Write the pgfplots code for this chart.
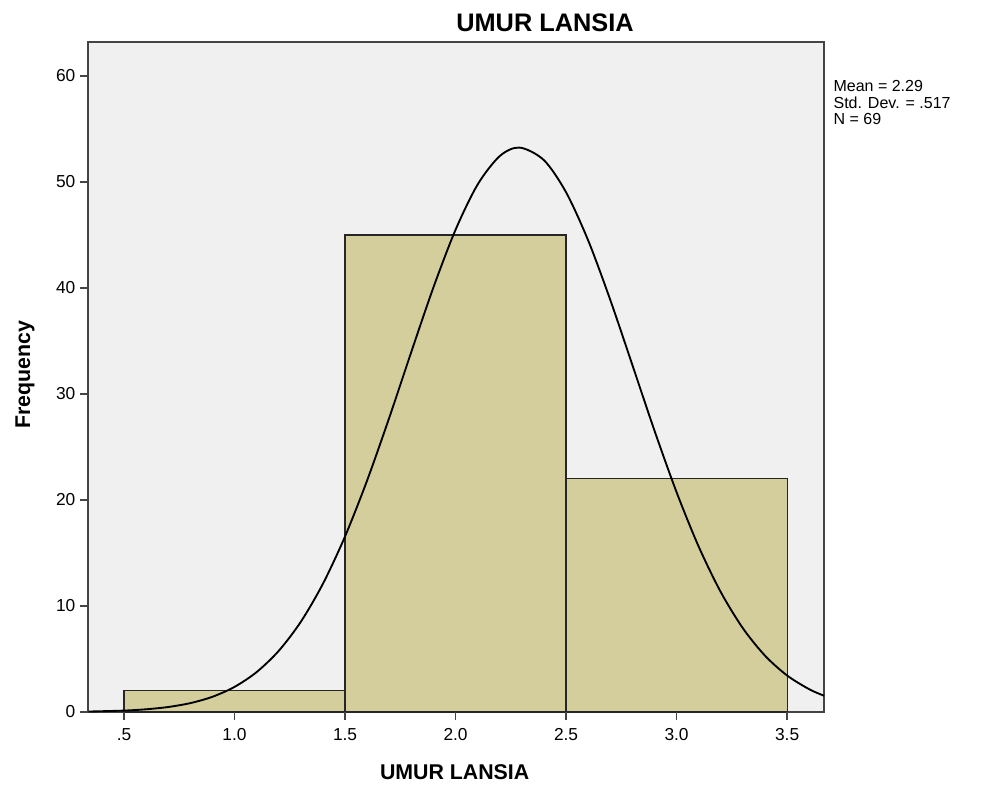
\documentclass[border=0pt]{standalone}
\usepackage{fontspec}
\setmainfont{Liberation Sans}
\usepackage{pgfplots}
\pgfplotsset{compat=1.18}
\definecolor{bgc}{HTML}{F0F0F0}
\definecolor{barc}{HTML}{D3CE9C}
\definecolor{axc}{HTML}{444444}
\begin{document}
\begin{tikzpicture}
\useasboundingbox (0pt,0pt) rectangle (736.5pt,593.25pt);
\begin{axis}[
  at={(66pt,59.25pt)}, anchor=south west,
  scale only axis, width=552pt, height=502.5pt,
  xmin=0.337, xmax=3.667, ymin=0, ymax=63.2,
  axis background/.style={fill=bgc},
  axis line style={axc, line width=1.2pt},
  xtick={0.5,1,1.5,2,2.5,3,3.5},
  xticklabels={.5,1.0,1.5,2.0,2.5,3.0,3.5},
  ytick={0,10,20,30,40,50,60},
  tick align=outside,
  tick pos=left,
  major tick length=6pt,
  every tick/.style={draw=axc, line width=1.2pt},
  ticklabel style={font=\fontsize{13}{14}\selectfont},
  xticklabel style={yshift=-3pt},
  /pgf/number format/assume math mode=true,
  clip=false,
]
\addplot[fill=barc, draw=black!85, line width=0.9pt]
  coordinates {(0.5,0) (0.5,2) (1.5,2) (1.5,0)} -- cycle;
\addplot[fill=barc, draw=black!85, line width=0.9pt]
  coordinates {(1.5,0) (1.5,45) (2.5,45) (2.5,0)} -- cycle;
\addplot[fill=barc, draw=black!85, line width=0.9pt]
  coordinates {(2.5,0) (2.5,22) (3.5,22) (3.5,0)} -- cycle;
\addplot[smooth, black, line width=1.4pt] coordinates {
(0.34,0.043)(0.5,0.133)(0.6,0.255)(0.7,0.471)(0.8,0.837)(0.9,1.434)
(1.0,2.368)(1.1,3.765)(1.2,5.768)(1.3,8.512)(1.4,12.10)(1.5,16.565)
(1.6,21.85)(1.7,27.76)(1.8,33.98)(1.9,40.06)(2.0,45.49)(2.1,49.76)
(2.2,52.44)(2.29,53.24)(2.4,52.05)(2.5,49.02)(2.6,44.48)(2.7,38.87)
(2.8,32.73)(2.9,26.54)(3.0,20.73)(3.1,15.60)(3.2,11.31)(3.3,7.899)
(3.4,5.313)(3.5,3.442)(3.6,2.148)(3.667,1.534)};
\addplot[ycomb, draw=axc, line width=1.2pt, mark=none] coordinates {
(0.5,-0.8)(1.0,-0.8)(1.5,-0.8)(2.0,-0.8)(2.5,-0.8)(3.0,-0.8)(3.5,-0.8)};
\end{axis}
\node[font=\bfseries\fontsize{19}{20}\selectfont] at (408.75pt,576.5pt) {UMUR LANSIA};
\node[font=\bfseries\fontsize{16}{17}\selectfont] at (341pt,14.5pt) {UMUR LANSIA};
\node[font=\bfseries\fontsize{16}{17}\selectfont, rotate=90] at (18.75pt,312pt) {Frequency};
\node[font=\fontsize{12}{12.3}\selectfont, anchor=north west, align=left, inner sep=0pt] at (625pt,533pt) {Mean = 2.29\\Std. Dev. = .517\\N = 69};
\end{tikzpicture}
\end{document}
